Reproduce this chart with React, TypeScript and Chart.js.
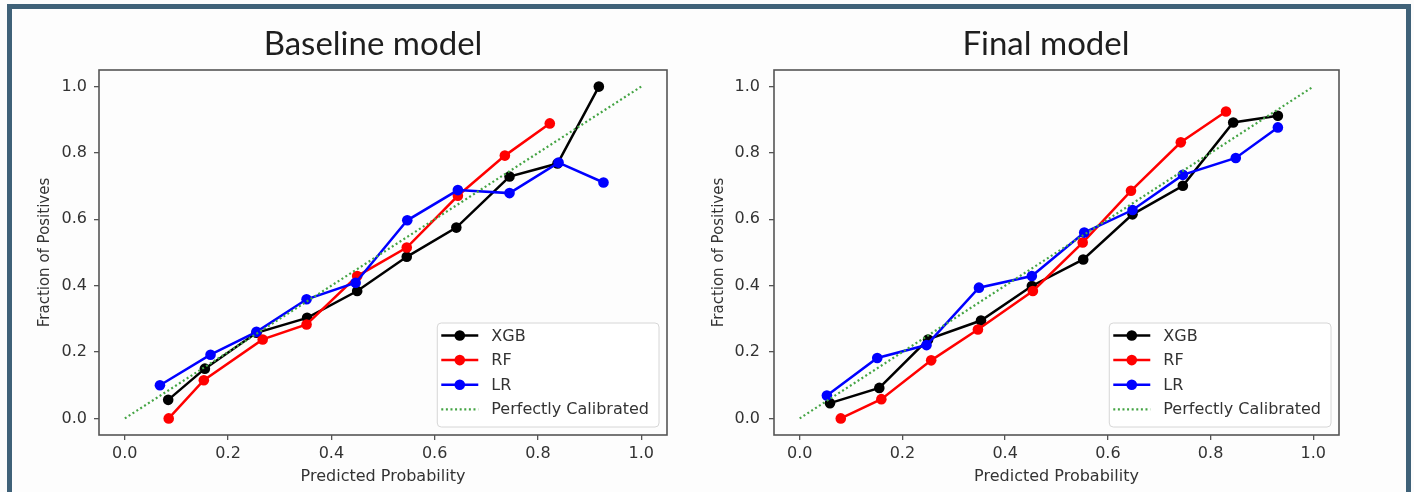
import React, { useEffect, useRef } from 'react';
import { Chart, registerables } from 'chart.js';

Chart.register(...registerables);

// ---- tick values / labels ----
const TICK_VALUES = [0, 0.2, 0.4, 0.6, 0.8, 1.0];
const TICK_LABELS = ['0.0', '0.2', '0.4', '0.6', '0.8', '1.0'];

// ---- series names / colours ----
const SERIES_NAMES = ['XGB', 'RF', 'LR', 'Perfectly Calibrated'];
const SERIES_COLORS = ['#000000', '#ff0000', '#0000ff', '#44a444'];

// ---- Baseline model ----
const baseXgbX = [0.084, 0.155, 0.255, 0.353, 0.45, 0.546, 0.642, 0.745, 0.838, 0.918];
const baseXgbY = [0.056, 0.15, 0.258, 0.303, 0.384, 0.487, 0.575, 0.729, 0.768, 1.0];
const baseRfX = [0.085, 0.153, 0.267, 0.352, 0.45, 0.546, 0.645, 0.736, 0.823];
const baseRfY = [0.0, 0.115, 0.238, 0.283, 0.429, 0.515, 0.671, 0.792, 0.889];
const baseLrX = [0.068, 0.166, 0.255, 0.352, 0.447, 0.547, 0.645, 0.745, 0.84, 0.927];
const baseLrY = [0.1, 0.192, 0.261, 0.359, 0.409, 0.597, 0.688, 0.679, 0.771, 0.711];

// ---- Final model ----
const finalXgbX = [0.059, 0.155, 0.25, 0.353, 0.452, 0.552, 0.648, 0.746, 0.844, 0.931];
const finalXgbY = [0.046, 0.092, 0.238, 0.295, 0.399, 0.479, 0.615, 0.701, 0.892, 0.912];
const finalRfX = [0.08, 0.159, 0.256, 0.347, 0.454, 0.551, 0.645, 0.742, 0.83];
const finalRfY = [0.0, 0.058, 0.175, 0.268, 0.384, 0.53, 0.686, 0.832, 0.925];
const finalLrX = [0.053, 0.151, 0.247, 0.349, 0.452, 0.554, 0.648, 0.746, 0.849, 0.931];
const finalLrY = [0.069, 0.182, 0.221, 0.394, 0.429, 0.56, 0.628, 0.734, 0.785, 0.877];

// ---- diagonal ----
const diagX = [0, 1];
const diagY = [0, 1];

const FONT = '"DejaVu Sans", sans-serif';
const TEXT_COLOR = '#333333';

function pts(xs: number[], ys: number[]) {
  return xs.map((x, i) => ({ x, y: ys[i] }));
}

function makeDatasets(sets: [number[], number[]][]) {
  return sets.map(([xs, ys], i) => {
    const isDiag = i === 3;
    return {
      label: SERIES_NAMES[i],
      data: pts(xs, ys),
      borderColor: SERIES_COLORS[i],
      backgroundColor: SERIES_COLORS[i],
      borderWidth: isDiag ? 2.2 : 2.5,
      borderDash: isDiag ? [2, 2.6] : [],
      pointRadius: isDiag ? 0 : 5.3,
      pointHoverRadius: isDiag ? 0 : 5.3,
      pointBorderWidth: 0,
      tension: 0,
      fill: false,
      order: 4 - i,
    };
  });
}

const spinesPlugin = {
  id: 'spines',
  afterDraw(chart: any) {
    const { ctx, chartArea } = chart;
    ctx.save();
    ctx.strokeStyle = '#555555';
    ctx.lineWidth = 1.6;
    ctx.strokeRect(chartArea.left, chartArea.top, chartArea.right - chartArea.left, chartArea.bottom - chartArea.top);
    ctx.restore();
  },
};

const legendPlugin = {
  id: 'boxLegend',
  afterDatasetsDraw(chart: any) {
    const { ctx, chartArea } = chart;
    const ds = chart.data.datasets;
    ctx.save();
    ctx.font = `16px ${FONT}`;
    const maxW = Math.max(...ds.map((d: any) => ctx.measureText(d.label).width));
    const w = 54 + maxW + 10;
    const h = 104;
    const x0 = chartArea.right - 8 - w;
    const y0 = chartArea.bottom - 8 - h;
    ctx.beginPath();
    (ctx as any).roundRect(x0, y0, w, h, 4);
    ctx.fillStyle = 'rgba(255,255,255,0.85)';
    ctx.fill();
    ctx.strokeStyle = '#d6d6d6';
    ctx.lineWidth = 1;
    ctx.stroke();
    ds.forEach((d: any, i: number) => {
      const cy = y0 + 12.5 + i * 24.6;
      ctx.save();
      ctx.strokeStyle = d.borderColor;
      ctx.lineWidth = d.borderWidth;
      ctx.setLineDash(d.borderDash || []);
      ctx.beginPath();
      ctx.moveTo(x0 + 4, cy);
      ctx.lineTo(x0 + 41, cy);
      ctx.stroke();
      ctx.restore();
      if (d.pointRadius > 0) {
        ctx.beginPath();
        ctx.arc(x0 + 22.5, cy, d.pointRadius, 0, Math.PI * 2);
        ctx.fillStyle = d.backgroundColor;
        ctx.fill();
      }
      ctx.fillStyle = TEXT_COLOR;
      ctx.textBaseline = 'middle';
      ctx.textAlign = 'left';
      ctx.fillText(d.label, x0 + 54, cy + 1);
    });
    ctx.restore();
  },
};

type Props = {
  title: string;
  titleX: number;
  left: number;
  yAxisWidth: number;
  rightPad: number;
  yTitlePad: number;
  yTickPad: number;
  sets: [number[], number[]][];
};

function CalibrationChart({ title, titleX, left, yAxisWidth, rightPad, yTitlePad, yTickPad, sets }: Props) {
  const ref = useRef<HTMLCanvasElement>(null);
  useEffect(() => {
    if (!ref.current) return;
    const titlePlugin = {
      id: 'bigTitle',
      afterDraw(chart: any) {
        const { ctx } = chart;
        ctx.save();
        ctx.font = '33px Lato, "Open Sans", sans-serif';
        ctx.fillStyle = '#1e1e1e';
        ctx.textAlign = 'center';
        ctx.textBaseline = 'alphabetic';
        ctx.fillText(title, titleX, 55);
        ctx.restore();
      },
    };
    const axisTicks = {
      display: true,
      drawOnChartArea: false,
      drawTicks: true,
      tickLength: 5,
      tickColor: '#555555',
      lineWidth: 1.3,
    };
    const chart = new Chart(ref.current, {
      type: 'line',
      data: { datasets: makeDatasets(sets) as any },
      options: {
        animation: false,
        responsive: false,
        layout: { padding: { top: 70, right: rightPad, left: 0, bottom: 0 } },
        plugins: { legend: { display: false }, tooltip: { enabled: false }, title: { display: false } },
        scales: {
          x: {
            type: 'linear',
            min: -0.05,
            max: 1.05,
            grid: axisTicks as any,
            border: { display: false },
            afterBuildTicks: (s: any) => {
              s.ticks = TICK_VALUES.map((v) => ({ value: v }));
            },
            afterFit: (s: any) => {
              s.height = 57;
            },
            ticks: {
              autoSkip: false,
              maxRotation: 0,
              padding: 4,
              color: TEXT_COLOR,
              font: { family: FONT, size: 16 },
              callback: (_v: any, i: number) => TICK_LABELS[i],
            },
            title: {
              display: true,
              text: 'Predicted Probability',
              color: TEXT_COLOR,
              font: { family: FONT, size: 16 },
              padding: { top: 0, bottom: 6 },
            },
          },
          y: {
            type: 'linear',
            min: -0.05,
            max: 1.05,
            grid: axisTicks as any,
            border: { display: false },
            afterBuildTicks: (s: any) => {
              s.ticks = TICK_VALUES.map((v) => ({ value: v }));
            },
            afterFit: (s: any) => {
              s.width = yAxisWidth;
            },
            ticks: {
              autoSkip: false,
              padding: yTickPad,
              color: TEXT_COLOR,
              font: { family: FONT, size: 16 },
              callback: (_v: any, i: number) => TICK_LABELS[i],
            },
            title: {
              display: true,
              text: 'Fraction of Positives',
              color: TEXT_COLOR,
              font: { family: FONT, size: 15 },
              padding: { top: yTitlePad, bottom: 0 },
            },
          },
        },
      },
      plugins: [spinesPlugin, legendPlugin, titlePlugin],
    });
    return () => chart.destroy();
  }, []);
  return (
    <canvas
      ref={ref}
      width={680}
      height={492}
      style={{ position: 'absolute', left, top: 0, width: 680, height: 492 }}
    />
  );
}

export default function App() {
  return (
    <div
      style={{
        position: 'fixed',
        left: 0,
        top: 0,
        width: 1414,
        height: 492,
        overflow: 'hidden',
        background: '#fcfcfc',
      }}
    >
      <div
        style={{
          position: 'absolute',
          left: 7,
          top: 4,
          width: 1404,
          height: 600,
          boxSizing: 'border-box',
          border: '5px solid #3f6178',
          background: '#fdfdfd',
        }}
      />
      <CalibrationChart
        title="Baseline model"
        titleX={353}
        left={20}
        yAxisWidth={79}
        rightPad={33}
        yTitlePad={16}
        yTickPad={7}
        sets={[
          [baseXgbX, baseXgbY],
          [baseRfX, baseRfY],
          [baseLrX, baseLrY],
          [diagX, diagY],
        ]}
      />
      <CalibrationChart
        title="Final model"
        titleX={346}
        left={700}
        yAxisWidth={74}
        rightPad={41}
        yTitlePad={10}
        yTickPad={9}
        sets={[
          [finalXgbX, finalXgbY],
          [finalRfX, finalRfY],
          [finalLrX, finalLrY],
          [diagX, diagY],
        ]}
      />
    </div>
  );
}
